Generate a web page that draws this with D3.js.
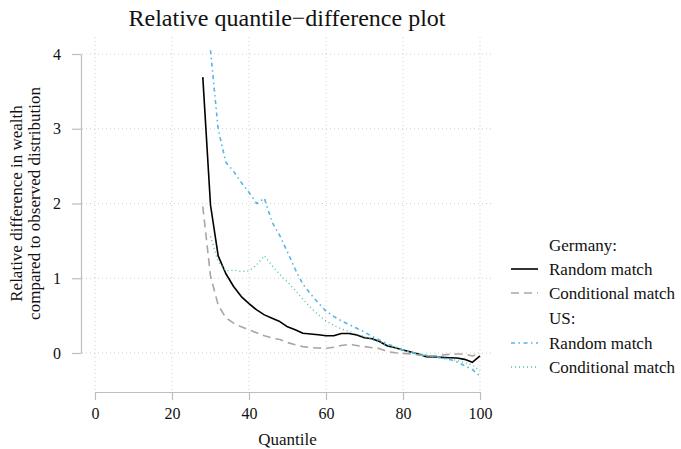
<!DOCTYPE html>
<html>
<head>
<meta charset="utf-8">
<style>
  body { margin: 0; background: #fff; }
  text { font-family: "Liberation Serif", "Times New Roman", serif; fill: #111; }
</style>
</head>
<body>
<svg width="681" height="449"></svg>
<script src="https://d3js.org/d3.v7.min.js"></script>
<script>

    // quantiles, two steps apart
    var qGermany = d3.range(28, 101, 2),
        qUS = d3.range(30, 101, 2);

    var deRandom = [3.69, 1.98, 1.30, 1.06, 0.89, 0.755, 0.66, 0.576, 0.51, 0.465, 0.42, 0.35, 0.31,
        0.265, 0.255, 0.245, 0.23, 0.23, 0.26, 0.26, 0.24, 0.205, 0.19, 0.15, 0.094, 0.07, 0.04,
        0.013, -0.013, -0.05, -0.054, -0.058, -0.063, -0.067, -0.085, -0.125, -0.04];

    var deConditional = [1.96, 1.03, 0.64, 0.47, 0.40, 0.35, 0.31, 0.27, 0.23, 0.20, 0.18, 0.14, 0.11,
        0.085, 0.072, 0.066, 0.063, 0.076, 0.10, 0.116, 0.10, 0.085, 0.071, 0.058, 0.018, 0.004,
        -0.005, -0.013, -0.027, -0.036, -0.036, -0.027, -0.018, -0.013, -0.013, -0.04, -0.005];

    var usRandom = [4.05, 2.99, 2.55, 2.43, 2.28, 2.15, 2.00, 2.07, 1.75, 1.57, 1.35, 1.12, 0.92,
        0.79, 0.67, 0.56, 0.49, 0.43, 0.38, 0.33, 0.28, 0.22, 0.17, 0.12, 0.08, 0.04, 0.01,
        -0.01, -0.03, -0.05, -0.065, -0.085, -0.12, -0.17, -0.22, -0.31];

    var usConditional = [1.56, 1.22, 1.10, 1.11, 1.09, 1.10, 1.18, 1.30, 1.17, 1.05, 0.95, 0.84, 0.72,
        0.61, 0.51, 0.43, 0.37, 0.32, 0.29, 0.25, 0.22, 0.18, 0.15, 0.10, 0.07, 0.04, 0.01,
        -0.02, -0.04, -0.05, -0.07, -0.08, -0.10, -0.13, -0.16, -0.24];

    var xTicks = [0, 20, 40, 60, 80, 100],
        yTicks = [0, 1, 2, 3, 4];

    var series = [
        {name: "Random match", q: qGermany, v: deRandom, color: "#000000", dash: null, width: 1.6},
        {name: "Conditional match", q: qGermany, v: deConditional, color: "#a6a6a6", dash: "8,5", width: 1.6},
        {name: "Random match", q: qUS, v: usRandom, color: "#56B4E9", dash: "4,3.5,1.5,3.5", width: 1.6},
        {name: "Conditional match", q: qUS, v: usConditional, color: "#4cc49a", dash: "1,3", width: 1.4}
    ];

    var svg = d3.select("svg"),
        panel = {left: 82, right: 492, top: 37, bottom: 390};

    var x = d3.scaleLinear().domain([0, 100]).range([95, 480]);
    var y = d3.scaleLinear().domain([0, 4]).range([353, 54]);

    // grid
    var grid = svg.append("g");
    grid.selectAll(".gx")
        .data(xTicks)
        .enter().append("line")
        .attr("x1", function(d) { return x(d); })
        .attr("x2", function(d) { return x(d); })
        .attr("y1", panel.top)
        .attr("y2", panel.bottom)
        .attr("stroke", "#cfcfcf")
        .attr("stroke-dasharray", "1,3");
    grid.selectAll(".gy")
        .data(yTicks)
        .enter().append("line")
        .attr("x1", panel.left)
        .attr("x2", panel.right)
        .attr("y1", function(d) { return y(d); })
        .attr("y2", function(d) { return y(d); })
        .attr("stroke", "#cfcfcf")
        .attr("stroke-dasharray", "1,3");

    // axes
    var fmt = d3.format("d");
    var yAxis = svg.append("g")
        .attr("transform", "translate(81,0)")
        .call(d3.axisLeft(y).tickValues(yTicks).tickFormat(fmt).tickSize(9).tickSizeOuter(0).tickPadding(11));
    var xAxis = svg.append("g")
        .attr("transform", "translate(0,392)")
        .call(d3.axisBottom(x).tickValues(xTicks).tickFormat(fmt).tickSize(8).tickSizeOuter(0).tickPadding(8));

    [xAxis, yAxis].forEach(function(a) {
        a.attr("font-family", "Liberation Serif, serif").attr("font-size", 16);
        a.selectAll("path, line").attr("stroke", "#bdbdbd").attr("stroke-width", 1.2);
        a.selectAll("text")
            .style("font-family", "'Liberation Serif', serif")
            .style("font-size", "16px")
            .attr("fill", "#000");
    });

    // lines
    var line = d3.line()
        .x(function(d) { return x(d[0]); })
        .y(function(d) { return y(d[1]); });

    series.forEach(function(s) {
        svg.append("path")
            .datum(d3.zip(s.q, s.v))
            .attr("fill", "none")
            .attr("stroke", s.color)
            .attr("stroke-width", s.width)
            .attr("stroke-dasharray", s.dash)
            .attr("stroke-linejoin", "round")
            .attr("d", line);
    });

    // titles
    svg.append("text")
        .attr("x", (panel.left + panel.right) / 2)
        .attr("y", 26)
        .attr("text-anchor", "middle")
        .style("font-size", "24px")
        .text("Relative quantile\u2212difference plot");

    svg.append("text")
        .attr("x", x(50))
        .attr("y", 445)
        .attr("text-anchor", "middle")
        .style("font-size", "17px")
        .text("Quantile");

    var yLab = svg.append("text")
        .attr("transform", "translate(0," + ((y(0) + y(4)) / 2) + ") rotate(-90)")
        .attr("text-anchor", "middle")
        .style("font-size", "17px");
    yLab.append("tspan").attr("x", 0).attr("y", 22).text("Relative difference in wealth");
    yLab.append("tspan").attr("x", 0).attr("y", 40).text("compared to observed distribution");

    // legend
    var legendRows = [
        {label: "Germany:", y: 245},
        {label: series[0].name, y: 269, s: series[0]},
        {label: series[1].name, y: 293, s: series[1]},
        {label: "US:", y: 318},
        {label: series[2].name, y: 343, s: series[2]},
        {label: series[3].name, y: 367, s: series[3]}
    ];

    var legend = svg.append("g");
    legendRows.forEach(function(r) {
        if (r.s) {
            legend.append("line")
                .attr("x1", 511).attr("x2", 538)
                .attr("y1", r.y).attr("y2", r.y)
                .attr("stroke", r.s.color)
                .attr("stroke-width", r.s.width)
                .attr("stroke-dasharray", r.s.dash);
        }
        legend.append("text")
            .attr("x", 549)
            .attr("y", r.y)
            .attr("dy", "0.33em")
            .style("font-size", "17px")
            .text(r.label);
    });

</script>
</body>
</html>
